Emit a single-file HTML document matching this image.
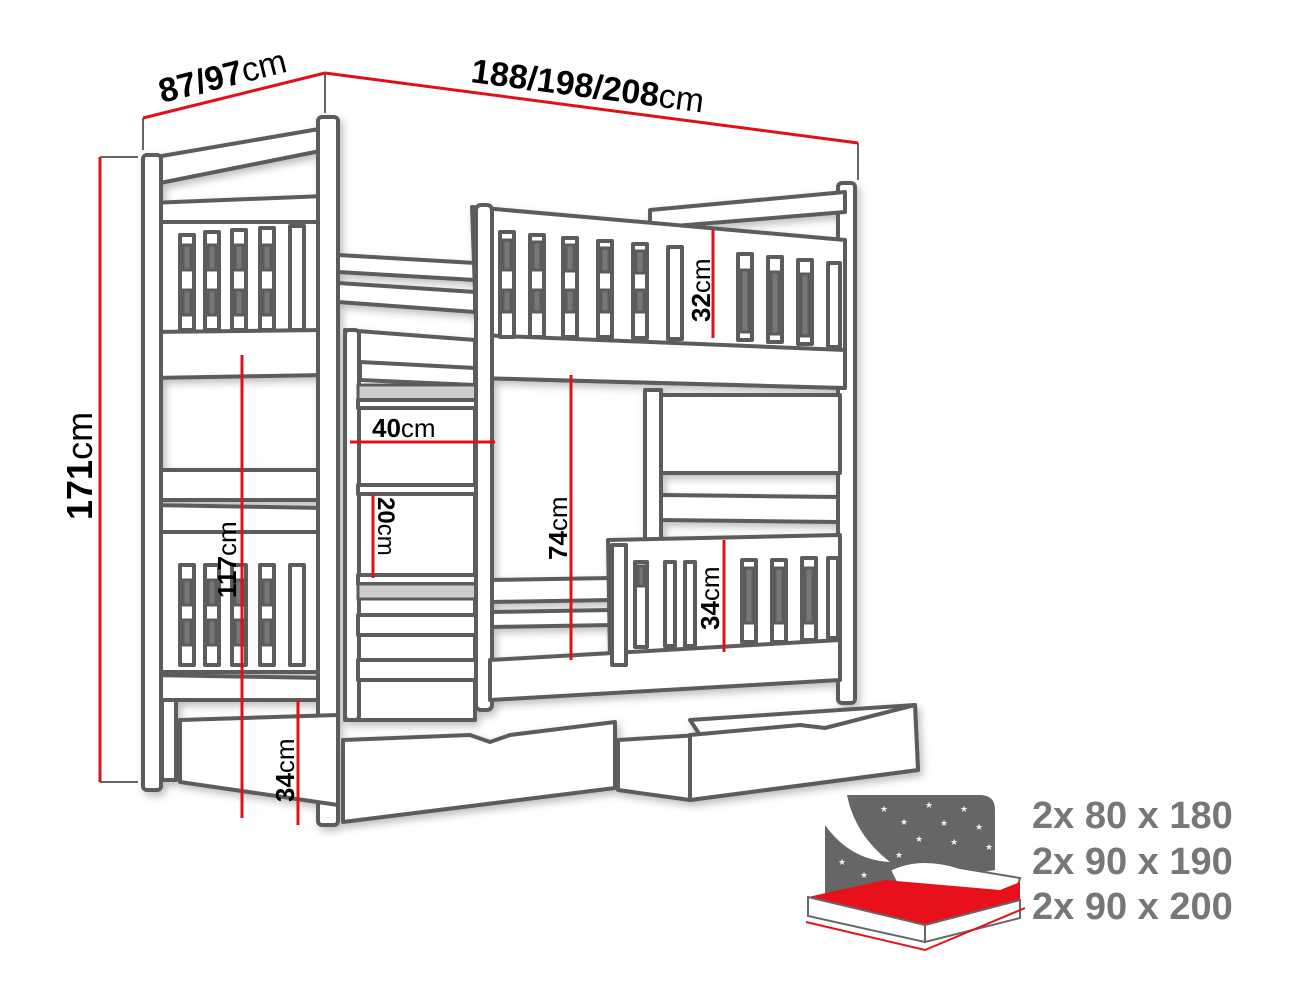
<!DOCTYPE html>
<html><head><meta charset="utf-8"><style>
html,body{margin:0;padding:0;background:#fff;width:1295px;height:1004px;overflow:hidden}
svg{display:block}
.o{fill:#fff;stroke:#5c5c5c;stroke-width:4;stroke-linejoin:round}
.d{fill:#777;stroke:#5c5c5c;stroke-width:3}
.r{stroke:#e0101a;stroke-width:3;fill:none}
.g{stroke:#666;stroke-width:2;fill:none}
text{font-family:"Liberation Sans",sans-serif}
.b{font-weight:bold;fill:#000}
.n{fill:#000}
.t{font-weight:bold;fill:#777;font-size:38px}
</style></head><body>
<svg width="1295" height="1004" viewBox="0 0 1295 1004" xmlns="http://www.w3.org/2000/svg">
<defs><filter id="sh" x="-5%" y="-5%" width="110%" height="110%"><feDropShadow dx="3" dy="4" stdDeviation="4" flood-color="#000" flood-opacity="0.25"/></filter></defs>
<g filter="url(#sh)">
<rect class="o" x="838" y="183" width="17" height="520" rx="4"/>
<polygon class="o" points="650,210 845,192 845,212 650,228"/>
<rect class="o" x="660" y="395" width="180" height="78"/>
<polygon class="o" points="660,495 838,497 838,522 660,520"/>
<polygon class="o" points="150,158 325,128 325,150 150,185"/>
<polygon class="o" points="150,203 325,196 325,222 150,222"/>
<rect class="o" x="152" y="222" width="170" height="110"/>
<polygon class="o" points="150,332 325,330 325,375 150,378"/>
<polygon class="o" points="150,470 325,470 325,500 150,500"/>
<polygon class="o" points="150,505 325,508 325,532 150,532"/>
<rect class="o" x="152" y="532" width="170" height="140"/>
<polygon class="o" points="150,675 325,678 325,700 150,700"/>
<g class="o">
<rect x="180" y="235" width="14" height="95"/><rect x="205" y="232" width="14" height="98"/><rect x="232" y="230" width="14" height="100"/><rect x="260" y="228" width="14" height="102"/><rect x="290" y="226" width="14" height="104"/>
<rect x="180" y="565" width="14" height="100"/><rect x="205" y="565" width="14" height="100"/><rect x="232" y="565" width="14" height="100"/><rect x="260" y="565" width="14" height="100"/><rect x="290" y="565" width="14" height="100"/>
</g>
<g class="d"><rect x="183" y="245" width="8" height="25"/><rect x="183" y="290" width="8" height="25"/><rect x="208" y="245" width="8" height="25"/><rect x="208" y="290" width="8" height="25"/><rect x="235" y="245" width="8" height="25"/><rect x="235" y="290" width="8" height="25"/><rect x="263" y="245" width="8" height="25"/><rect x="263" y="290" width="8" height="25"/>
<rect x="183" y="580" width="8" height="25"/><rect x="183" y="620" width="8" height="25"/><rect x="208" y="580" width="8" height="25"/><rect x="208" y="620" width="8" height="25"/><rect x="235" y="580" width="8" height="25"/><rect x="235" y="620" width="8" height="25"/><rect x="263" y="580" width="8" height="25"/><rect x="263" y="620" width="8" height="25"/></g>
<rect class="o" x="143" y="155" width="18" height="635" rx="4"/>
<rect class="o" x="318" y="117" width="20" height="708" rx="4"/>
<rect class="o" x="162" y="700" width="14" height="80"/>
<polygon class="o" points="338,255 475,263 475,280 338,272"/>
<polygon class="o" points="338,283 475,292 475,312 338,302"/>
<polygon class="o" points="345,330 475,340 475,720 345,720"/>
<polygon class="o" points="360,362 475,368 475,385 360,380"/>
<rect class="o" x="345" y="330" width="14" height="390" rx="4"/>
<rect class="d" x="358" y="385" width="120" height="15" style="fill:#ccc"/>
<rect class="o" x="358" y="400" width="130" height="8"/>
<rect class="o" x="358" y="485" width="130" height="9"/>
<rect class="o" x="358" y="575" width="130" height="9"/>
<rect class="d" x="358" y="584" width="120" height="15" style="fill:#ccc"/>
<rect class="o" x="358" y="615" width="120" height="20"/>
<rect class="o" x="358" y="660" width="120" height="20"/>
<polygon class="o" points="490,580 612,578 612,600 490,602"/>
<polygon class="o" points="490,612 612,610 612,625 490,627"/>
<polygon class="o" points="472,207 845,240 845,388 478,378"/>
<polygon class="o" points="478,335 845,350 845,388 478,378"/>
<g class="o">
<rect x="500" y="232" width="14" height="105"/><rect x="530" y="235" width="14" height="102"/><rect x="563" y="238" width="14" height="99"/><rect x="598" y="241" width="14" height="96"/><rect x="633" y="244" width="14" height="94"/><rect x="668" y="247" width="14" height="92"/>
<rect x="738" y="254" width="14" height="86"/><rect x="768" y="257" width="14" height="85"/><rect x="798" y="260" width="14" height="84"/><rect x="828" y="263" width="12" height="84"/></g>
<g class="d"><rect x="503" y="240" width="8" height="30"/><rect x="503" y="290" width="8" height="22"/><rect x="533" y="242" width="8" height="28"/><rect x="533" y="290" width="8" height="22"/><rect x="566" y="245" width="8" height="26"/><rect x="566" y="290" width="8" height="22"/><rect x="601" y="248" width="8" height="24"/><rect x="601" y="290" width="8" height="22"/><rect x="636" y="251" width="8" height="22"/><rect x="636" y="290" width="8" height="22"/>
<rect x="741" y="270" width="8" height="62"/><rect x="771" y="272" width="8" height="62"/><rect x="801" y="274" width="8" height="62"/></g>
<rect class="o" x="476" y="205" width="16" height="505" rx="5"/>
<rect class="o" x="645" y="390" width="16" height="155"/>
<polygon class="o" points="608,540 840,535 840,640 610,660"/>
<g class="o"><rect x="635" y="562" width="12" height="85"/><rect x="665" y="562" width="10" height="84"/><rect x="685" y="562" width="10" height="84"/><rect x="742" y="560" width="14" height="82"/><rect x="772" y="560" width="14" height="82"/><rect x="802" y="558" width="14" height="82"/><rect x="828" y="558" width="10" height="80"/></g>
<g class="d"><rect x="745" y="568" width="8" height="55"/><rect x="775" y="568" width="8" height="55"/><rect x="805" y="568" width="8" height="55"/><rect x="638" y="566" width="6" height="20"/></g>
<polygon class="o" points="490,660 840,640 840,680 490,700"/>
<rect class="o" x="612" y="545" width="14" height="120"/>
<polygon class="o" points="180,720 338,715 338,805 180,782"/>
<polygon class="o" points="343,740 470,735 490,742 510,735 615,722 615,788 343,822"/>
<polygon class="o" points="618,740 700,735 690,720 915,705 918,770 690,800 618,790"/>
<polygon class="o" points="690,735 800,725 825,728 915,705 918,770 690,800"/>
</g>
<line class="g" x1="143" y1="118" x2="143" y2="150"/><line class="g" x1="325" y1="73" x2="325" y2="113"/><line class="g" x1="858" y1="143" x2="858" y2="180"/>
<line class="g" x1="100" y1="157" x2="138" y2="157"/><line class="g" x1="100" y1="782" x2="138" y2="782"/>
<line class="r" x1="143" y1="118" x2="325" y2="73"/>
<line class="r" x1="325" y1="73" x2="858" y2="143"/>
<line class="r" x1="100" y1="157" x2="100" y2="782"/>
<line class="r" x1="242" y1="355" x2="242" y2="818"/>
<line class="r" x1="298" y1="700" x2="298" y2="825"/>
<line class="r" x1="350" y1="442" x2="495" y2="442"/>
<line class="r" x1="373" y1="495" x2="373" y2="578"/>
<line class="r" x1="571" y1="375" x2="571" y2="660"/>
<line class="r" x1="713" y1="230" x2="713" y2="338"/>
<line class="r" x1="724" y1="540" x2="724" y2="652"/>
<text transform="translate(162,103) rotate(-14)" font-size="34"><tspan class="b">87/97</tspan><tspan class="n">cm</tspan></text>
<text transform="translate(470,82) rotate(7.5)" font-size="34"><tspan class="b">188/198/208</tspan><tspan class="n">cm</tspan></text>
<text transform="translate(92,520) rotate(-90)" font-size="36"><tspan class="b">171</tspan><tspan class="n">cm</tspan></text>
<text transform="translate(236,598) rotate(-90)" font-size="26"><tspan class="b">117</tspan><tspan class="n">cm</tspan></text>
<text transform="translate(294,802) rotate(-90)" font-size="26"><tspan class="b">34</tspan><tspan class="n">cm</tspan></text>
<text x="372" y="437" font-size="26"><tspan class="b">40</tspan><tspan class="n">cm</tspan></text>
<text transform="translate(378,497) rotate(90)" font-size="24"><tspan class="b">20</tspan><tspan class="n">cm</tspan></text>
<text transform="translate(567,560) rotate(-90)" font-size="26"><tspan class="b">74</tspan><tspan class="n">cm</tspan></text>
<text transform="translate(710,322) rotate(-90)" font-size="26"><tspan class="b">32</tspan><tspan class="n">cm</tspan></text>
<text transform="translate(719,630) rotate(-90)" font-size="26"><tspan class="b">34</tspan><tspan class="n">cm</tspan></text>
<path d="M847,795 L980,795 Q995,795 995,810 L995,870 L825,895 L825,825 Q850,860 890,862 Q855,835 847,795 Z" fill="#666"/>
<g fill="#eee" font-size="9"><text x="880" y="812">★</text><text x="925" y="808">★</text><text x="960" y="812">★</text><text x="900" y="825">★</text><text x="940" y="826">★</text><text x="975" y="830">★</text><text x="915" y="842">★</text><text x="950" y="845">★</text><text x="838" y="865">★</text><text x="860" y="878">★</text><text x="985" y="850">★</text><text x="895" y="858">★</text></g>
<path d="M890,870 Q920,855 960,868 L1020,878 L1015,895 L960,900 L900,890 Z" fill="#fff" stroke="#666" stroke-width="2"/>
<polygon points="808,897 885,880 1000,890 1020,882 1020,900 925,925" fill="#e8101a"/>
<polygon points="808,897 925,925 925,942 808,916" fill="#fff" stroke="#666" stroke-width="2"/>
<polygon points="925,925 1020,900 1020,918 925,942" fill="#fff" stroke="#666" stroke-width="2"/>
<polyline points="806,922 925,950 1025,908" fill="none" stroke="#e8101a" stroke-width="2"/>
<text class="t" x="1032" y="828">2x 80 x 180</text>
<text class="t" x="1032" y="874">2x 90 x 190</text>
<text class="t" x="1032" y="919">2x 90 x 200</text>
</svg>
</body></html>
